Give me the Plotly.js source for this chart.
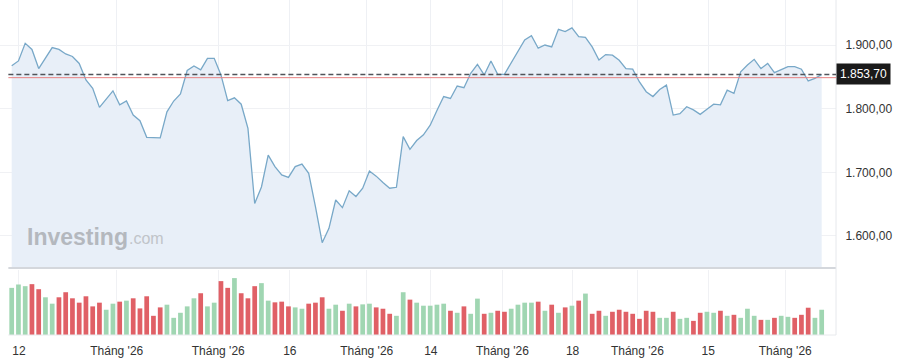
<!DOCTYPE html>
<html>
<head>
<meta charset="utf-8">
<script src="https://cdn.plot.ly/plotly-3.0.1.min.js"></script>
<style>
  html, body { margin: 0; padding: 0; background: #ffffff; }
  #chart { width: 900px; height: 363px; }
</style>
</head>
<body>
<div id="chart"></div>
<script>
// ---- data ----
const prices = [
  1867.5, 1875, 1902.6, 1893, 1863, 1879, 1896, 1893, 1886, 1882,
  1871, 1845, 1832, 1802, 1815, 1828, 1806, 1812, 1790, 1781,
  1755, 1754, 1754, 1795, 1812, 1823, 1860, 1867, 1861, 1879,
  1879, 1853, 1812.5, 1817, 1807, 1769, 1651, 1677, 1727, 1709,
  1696, 1692, 1709, 1713, 1698.5, 1646, 1589.5, 1612, 1656.5, 1644.5,
  1671, 1662, 1675, 1702, 1694, 1684, 1675, 1676.5, 1756, 1736,
  1750, 1759, 1774, 1797, 1819, 1816, 1835.6, 1833, 1855.5, 1869.7,
  1853, 1875, 1854, 1854, 1872, 1889.5, 1908, 1914.6, 1895, 1900,
  1897, 1924.6, 1921, 1927, 1913, 1912, 1897, 1876.4, 1885, 1884,
  1876, 1863, 1862, 1842, 1826.6, 1819, 1830, 1837, 1790, 1792,
  1803, 1798, 1791, 1799, 1807, 1806, 1829, 1824, 1858, 1868.6,
  1877.5, 1863, 1871, 1856.5, 1861, 1866, 1866, 1862, 1843.5, 1847.7,
  1853.7
];
const volumes = [
  140, 150, 145, 151, 136, 112, 93, 112, 127, 109,
  96, 115, 85, 96, 75, 93, 99, 102, 109, 79,
  115, 57, 82, 90, 51, 66, 85, 109, 124, 85,
  96, 160, 140, 169, 124, 109, 145, 154, 102, 97,
  99, 85, 82, 78, 93, 96, 112, 78, 90, 72,
  93, 85, 91, 93, 82, 78, 63, 57, 127, 105,
  96, 87, 87, 90, 93, 72, 66, 85, 63, 108,
  63, 66, 72, 69, 78, 90, 96, 96, 99, 72,
  90, 66, 82, 87, 102, 123, 63, 72, 57, 69,
  75, 69, 63, 48, 72, 69, 51, 51, 69, 48,
  51, 42, 66, 69, 66, 72, 57, 60, 51, 78,
  57, 45, 45, 51, 57, 54, 51, 60, 81, 51,
  75
];
// 'u' = up candle (green), 'd' = down candle (red)
const volDir = [
  'u','u','u','d','d','u','u','d','d','d',
  'd','d','d','d','u','u','d','u','d','d',
  'd','d','d','u','u','u','u','u','d','u',
  'u','d','d','u','d','d','d','u','u','d',
  'd','d','u','u','d','d','d','u','u','d',
  'u','d','u','u','d','d','d','u','u','d',
  'u','u','u','u','u','d','u','d','u','u',
  'd','u','d','d','u','u','u','u','d','u',
  'd','u','d','u','d','u','d','d','u','d',
  'd','d','d','d','d','d','u','u','d','u',
  'u','d','d','u','u','d','u','d','u','u',
  'u','d','u','d','u','u','d','d','d','u',
  'u'
];
const tickPos = [1.08, 15.56, 30.6, 41.2, 52.6, 62.1, 72.7, 83.1, 92.7, 103.2, 114.6];
const tickLabels = ["12", "Tháng '26", "Tháng '26", "16", "Tháng '26", "14", "Tháng '26", "18", "Tháng '26", "15", "Tháng '26"];
const lastPrice = 1853.70;
const prevClose = 1848.7;
const priceTicks = [1600, 1700, 1800, 1900];

// ---- chart ----
const idx = prices.map((_, i) => i);
const FONT = '"Liberation Sans", Arial, Helvetica, sans-serif';
const GREEN = 'rgb(160,214,178)';
const RED = 'rgb(224,96,102)';
const fmt = v => v.toFixed(2).replace('.', ',').replace(/\B(?=(\d{3})+(?!\d))/g, '.');

const priceTrace = {
  x: idx, y: prices, type: 'scatter', mode: 'lines',
  xaxis: 'x2', yaxis: 'y',
  line: { color: 'rgb(120,168,200)', width: 1.3, shape: 'linear' },
  fill: 'tozeroy', fillcolor: 'rgb(232,239,248)',
  hoverinfo: 'skip'
};
const volTrace = {
  x: idx, y: volumes, type: 'bar',
  xaxis: 'x', yaxis: 'y2',
  width: 0.7,
  marker: { color: volDir.map(d => d === 'u' ? GREEN : RED), line: { width: 0 } },
  hoverinfo: 'skip'
};

const XR = [-1.733, 122.12];
const layout = {
  width: 900, height: 363,
  margin: { l: 0, r: 64, t: 0, b: 28, pad: 0 },
  paper_bgcolor: '#ffffff', plot_bgcolor: 'rgba(0,0,0,0)',
  showlegend: false,
  separators: ',.',
  font: { family: FONT, size: 12, color: '#333333' },
  xaxis: {
    domain: [0, 1], anchor: 'y2', range: XR,
    tickmode: 'array', tickvals: tickPos, ticktext: tickLabels,
    ticks: 'outside', ticklen: 5, tickcolor: 'rgba(0,0,0,0)',
    showgrid: true, gridcolor: 'rgb(240,241,244)', gridwidth: 1,
    zeroline: false, showline: false,
    tickfont: { family: FONT, size: 12, color: '#333333' }
  },
  xaxis2: {
    domain: [0, 1], anchor: 'y', range: XR, matches: 'x',
    tickmode: 'array', tickvals: tickPos, showticklabels: false,
    ticks: '', showgrid: true, gridcolor: 'rgb(238,240,244)', gridwidth: 1,
    zeroline: false, showline: false
  },
  yaxis: {
    domain: [0.2, 1], anchor: 'x2', side: 'right',
    range: [1549.7, 1970.7],
    tickmode: 'array', tickvals: priceTicks, ticktext: priceTicks.map(fmt),
    ticks: 'outside', ticklen: 6, tickcolor: 'rgba(0,0,0,0)',
    showgrid: true, gridcolor: 'rgb(240,241,244)', gridwidth: 1,
    zeroline: false, showline: false,
    tickfont: { family: FONT, size: 12, color: '#333333' }
  },
  yaxis2: {
    domain: [0, 0.194], anchor: 'x', side: 'right',
    range: [0, 193], showticklabels: false, ticks: '',
    showgrid: false, zeroline: false, showline: false
  },
  shapes: [
    // separator between price and volume panes
    { type: 'line', xref: 'paper', yref: 'paper', x0: 0.01, x1: 1, y0: 0.2, y1: 0.2,
      line: { color: 'rgb(212,215,220)', width: 2 } },
    // bottom line of volume pane
    { type: 'line', xref: 'paper', yref: 'paper', x0: 0.01, x1: 1, y0: 0, y1: 0,
      line: { color: 'rgb(232,234,237)', width: 1 } },
    // right border of plot
    { type: 'line', xref: 'paper', yref: 'paper', x0: 1, x1: 1, y0: 0, y1: 1,
      line: { color: 'rgb(230,232,236)', width: 1 } },
    // previous close (red thin)
    { type: 'line', xref: 'paper', yref: 'y', x0: 0.01, x1: 1, y0: prevClose, y1: prevClose,
      line: { color: 'rgb(232,130,130)', width: 1 } },
    // last price (dashed)
    { type: 'line', xref: 'paper', yref: 'y', x0: 0.01, x1: 1, y0: lastPrice, y1: lastPrice,
      line: { color: 'rgb(80,84,90)', width: 1.5, dash: '5px,3px' } }
  ],
  annotations: [
    { xref: 'paper', yref: 'y', x: 1, y: lastPrice, xanchor: 'left', yanchor: 'middle',
      text: fmt(lastPrice), showarrow: false,
      font: { family: FONT, size: 12, color: '#ffffff' },
      bgcolor: '#1a1a1a', borderpad: 3, xshift: 0 },
    { xref: 'paper', yref: 'paper', x: 25 / 836, y: (335 - 237) / 335, xanchor: 'left', yanchor: 'middle',
      text: '<b>Investing</b>', showarrow: false,
      font: { family: FONT, size: 23, color: 'rgb(180,184,190)' } },
    { xref: 'paper', yref: 'paper', x: 127 / 836, y: (335 - 239) / 335, xanchor: 'left', yanchor: 'middle',
      text: '.com', showarrow: false,
      font: { family: FONT, size: 16, color: 'rgb(192,196,201)' } }
  ]
};

Plotly.newPlot('chart', [priceTrace, volTrace], layout, { staticPlot: true, displayModeBar: false });
</script>
</body>
</html>
